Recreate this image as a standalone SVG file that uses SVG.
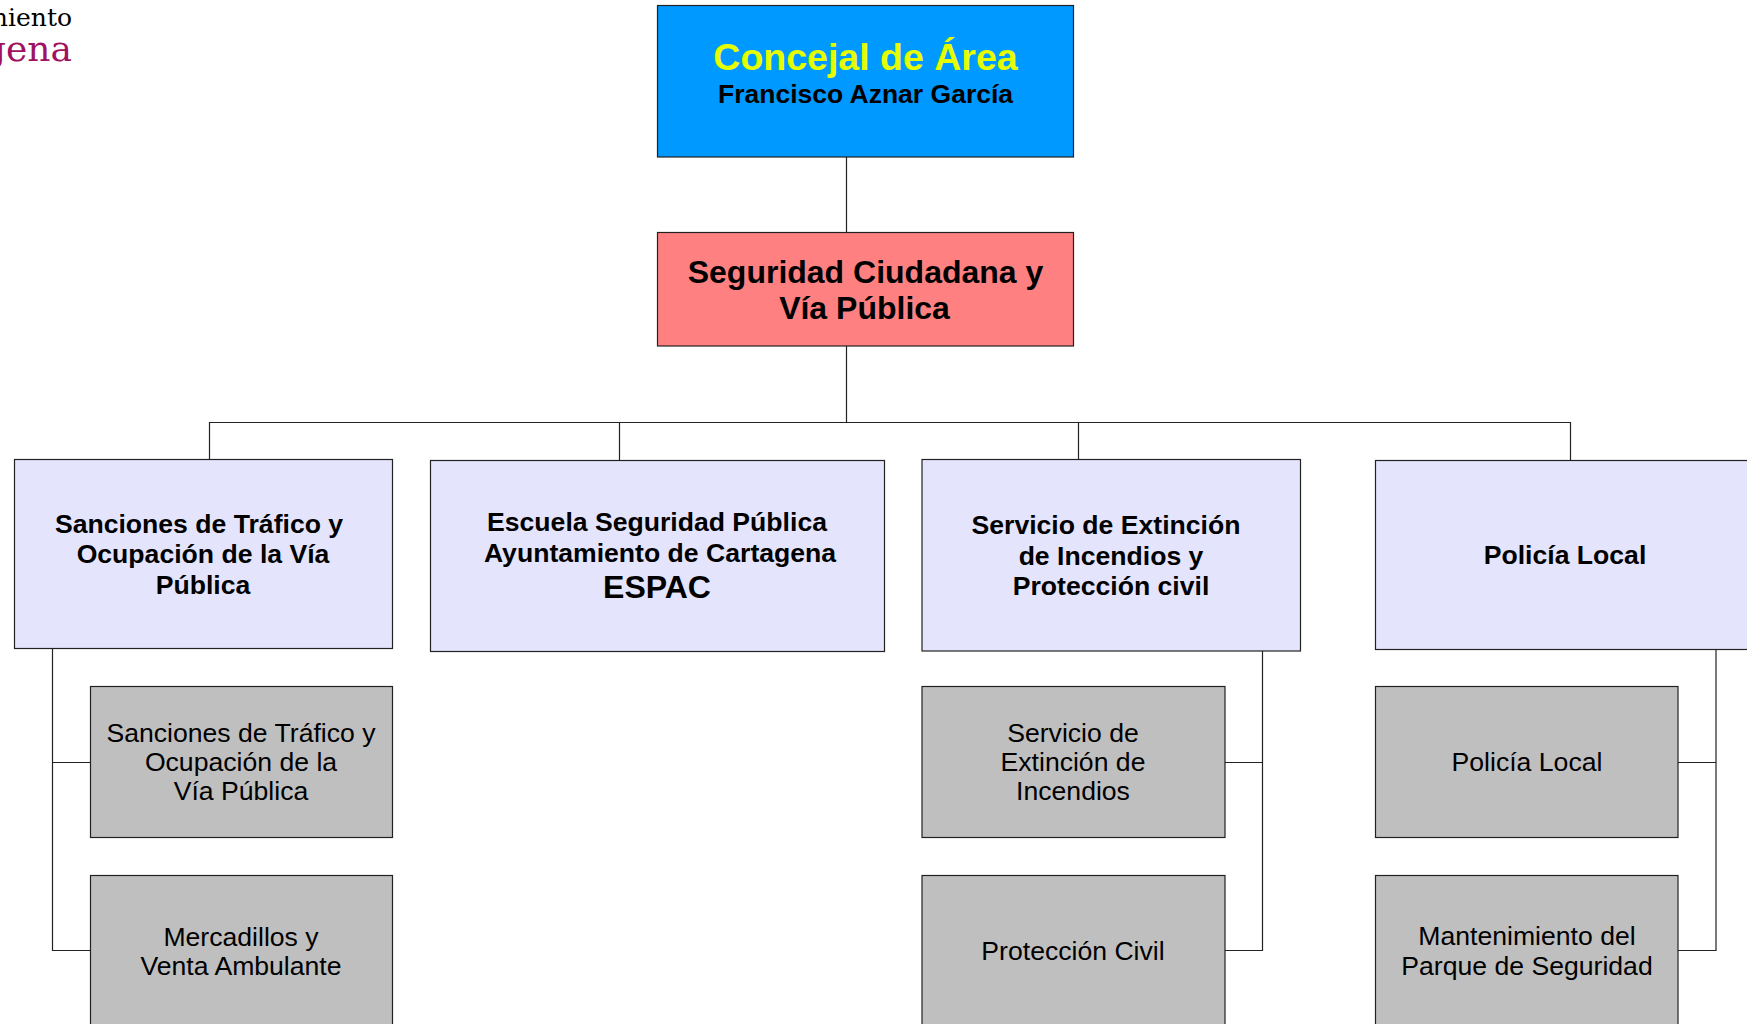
<svg xmlns="http://www.w3.org/2000/svg" width="1747" height="1024" viewBox="0 0 1747 1024">
<style>
text{font-family:"Liberation Sans",Arial,sans-serif;text-anchor:middle;fill:#000}
.b{fill:#e4e4fc;stroke:#222;stroke-width:1.2}
.g{fill:#bfbfbf;stroke:#222;stroke-width:1.2}
.t{font-weight:700;font-size:26.6px}
.s{font-size:26.6px}
.c{fill:none;stroke:#222;stroke-width:1.2}
.l{font-family:"DejaVu Serif",serif;text-anchor:end}
</style>
<rect width="1747" height="1024" fill="#fff"/>
<g id="connectors">
<path class="c" d="M846.500 157V232M846.500 346V422.500M209.500 459V422.500H1570.500V460M619.500 422.500V460M1078.500 422.500V459"/>
<path class="c" d="M52.500 648V950.500H90M52.500 762.500H90"/>
<path class="c" d="M1262.500 649V950.500H1225M1262.500 762.500H1225"/>
<path class="c" d="M1716 649V950.500H1678M1716 762.500H1678"/>
</g>
<g id="logo">
<text class="l" x="72" y="26" font-size="25">miento</text>
<text class="l" x="72" y="61" font-size="36" style="fill:#a0125f">gena</text>
</g>
<g id="concejal">
<rect x="657.500" y="5.500" width="416" height="151.500" fill="#0099ff" stroke="#222" stroke-width="1.200"/>
<text x="865.500" y="69.500" font-size="37.500" font-weight="700" style="fill:#e6ff00">Concejal de Área</text>
<text x="865.500" y="103" font-size="26.500" font-weight="700">Francisco Aznar García</text>
</g>
<g id="seguridad">
<rect x="657.500" y="232.500" width="416" height="113.500" fill="#ff8080" stroke="#222" stroke-width="1.200"/>
<text x="865.500" y="283" font-size="32" font-weight="700">Seguridad Ciudadana y</text>
<text x="864.500" y="319" font-size="32" font-weight="700">Vía Pública</text>
</g>
<g id="sanciones">
<rect class="b" x="14.500" y="459.500" width="378" height="189"/>
<text class="t" x="199" y="533">Sanciones de Tráfico y</text>
<text class="t" x="203" y="563">Ocupación de la Vía</text>
<text class="t" x="203" y="594">Pública</text>
</g>
<g id="escuela">
<rect class="b" x="430.500" y="460.500" width="454" height="191"/>
<text class="t" x="657" y="531">Escuela Seguridad Pública</text>
<text class="t" x="660" y="562">Ayuntamiento de Cartagena</text>
<text x="657" y="598" font-size="32" font-weight="700">ESPAC</text>
</g>
<g id="extincion">
<rect class="b" x="922" y="459.500" width="378.500" height="191.500"/>
<text class="t" x="1106" y="534">Servicio de Extinción</text>
<text class="t" x="1111" y="565">de Incendios y</text>
<text class="t" x="1111" y="595">Protección civil</text>
</g>
<g id="policia">
<rect class="b" x="1375.500" y="460.500" width="378" height="189"/>
<text class="t" x="1565" y="564">Policía Local</text>
</g>
<g id="sub-sanciones">
<rect class="g" x="90.500" y="686.500" width="302" height="151"/>
<text class="s" x="241" y="742">Sanciones de Tráfico y</text>
<text class="s" x="241" y="771">Ocupación de la</text>
<text class="s" x="241" y="800">Vía Pública</text>
</g>
<g id="mercadillos">
<rect class="g" x="90.500" y="875.500" width="302" height="155"/>
<text class="s" x="241" y="945.500">Mercadillos y</text>
<text class="s" x="241" y="975">Venta Ambulante</text>
</g>
<g id="sub-extincion">
<rect class="g" x="922" y="686.500" width="303" height="151"/>
<text class="s" x="1073" y="742">Servicio de</text>
<text class="s" x="1073" y="771">Extinción de</text>
<text class="s" x="1073" y="800">Incendios</text>
</g>
<g id="proteccion">
<rect class="g" x="922" y="875.500" width="303" height="155"/>
<text class="s" x="1073" y="960">Protección Civil</text>
</g>
<g id="sub-policia">
<rect class="g" x="1375.500" y="686.500" width="302.500" height="151"/>
<text class="s" x="1527" y="771">Policía Local</text>
</g>
<g id="mantenimiento">
<rect class="g" x="1375.500" y="875.500" width="302.500" height="155"/>
<text class="s" x="1527" y="945">Mantenimiento del</text>
<text class="s" x="1527" y="975">Parque de Seguridad</text>
</g>
</svg>
